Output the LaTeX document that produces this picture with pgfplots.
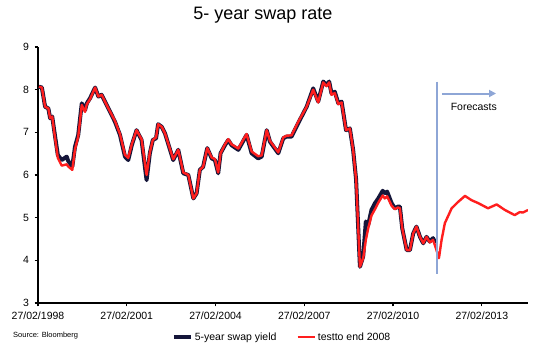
\documentclass[border=0pt]{standalone}
\usepackage{fontspec}
\setmainfont{Liberation Sans}
\usepackage{pgfplots}
\pgfplotsset{compat=1.18}
\usetikzlibrary{arrows.meta}
\definecolor{navy}{HTML}{15163A}
\definecolor{rline}{HTML}{FF1E1E}
\definecolor{fcast}{HTML}{8EA6D6}

\begin{document}
\begin{tikzpicture}
\path[use as bounding box] (-38pt,-47pt) rectangle (512pt,303pt);
\begin{axis}[
  at={(0pt,0pt)}, anchor=south west,
  scale only axis, width=490pt, height=256pt,
  xmin=1998.16, xmax=2014.72, ymin=3, ymax=9,
  axis x line*=bottom, axis y line*=left,
  axis line style={line width=1.8pt, -},
  xtick={1998.16,2001.16,2004.16,2007.16,2010.16,2013.16},
  xticklabels={27/02/1998,27/02/2001,27/02/2004,27/02/2007,27/02/2010,27/02/2013},
  ytick={3,4,5,6,7,8,9},
  tick align=outside, major tick length=3.5pt,
  tick style={line width=1.2pt, black},
  ticklabel style={font=\fontsize{10.5}{12}\selectfont},
  /pgf/number format/assume math mode=true,
  xticklabel style={yshift=-2pt},
  yticklabel style={xshift=-2pt},
  legend style={at={(0.498,-0.133)}, anchor=center, draw=none, fill=none,
    legend columns=2, font=\fontsize{10.5}{12}\selectfont,
    /tikz/every even column/.append style={column sep=18pt},
    inner sep=0pt},
  legend image code/.code={\draw[#1] (0pt,0pt) -- (17pt,0pt);},
]
\addplot[navy, line width=4pt, line join=round] coordinates {
(1998.19,8.07) (1998.29,8.05) (1998.40,7.60) (1998.51,7.56) (1998.57,7.33)
(1998.64,7.37) (1998.73,6.94) (1998.83,6.47) (1998.96,6.35) (1999.13,6.43)
(1999.18,6.33) (1999.32,6.20) (1999.41,6.66) (1999.52,6.94) (1999.64,7.68)
(1999.75,7.52) (1999.81,7.68) (1999.92,7.80) (2000.09,8.05) (2000.20,7.84)
(2000.31,7.88) (2000.54,7.56) (2000.76,7.25) (2000.93,6.94) (2001.10,6.43)
(2001.21,6.35) (2001.33,6.70) (2001.49,7.05) (2001.66,6.82) (2001.83,5.88)
(2001.94,6.51) (2002.04,6.82) (2002.15,6.86) (2002.22,7.19) (2002.34,7.13)
(2002.45,6.98) (2002.73,6.35) (2002.90,6.59) (2003.07,6.04) (2003.24,6.00)
(2003.41,5.45) (2003.52,5.57) (2003.63,6.12) (2003.74,6.19) (2003.88,6.63)
(2004.03,6.39) (2004.14,6.35) (2004.25,6.04) (2004.33,6.51) (2004.48,6.70)
(2004.59,6.82) (2004.70,6.70) (2004.93,6.59) (2005.21,6.94) (2005.38,6.51)
(2005.60,6.39) (2005.72,6.43) (2005.89,7.05) (2006.00,6.78) (2006.28,6.51)
(2006.45,6.86) (2006.56,6.90) (2006.73,6.90) (2006.95,7.21) (2007.24,7.60)
(2007.46,8.03) (2007.63,7.72) (2007.80,8.19) (2007.91,8.11) (2008.00,8.19)
(2008.08,7.91) (2008.19,7.95) (2008.31,7.68) (2008.42,7.72) (2008.57,7.05)
(2008.70,7.09) (2008.81,6.59) (2008.91,5.90) (2009.04,3.85) (2009.15,4.09)
(2009.24,4.91) (2009.32,4.83) (2009.43,5.18) (2009.55,5.34) (2009.66,5.45)
(2009.81,5.63) (2009.88,5.57) (2009.96,5.61) (2010.11,5.34) (2010.22,5.22)
(2010.33,5.26) (2010.39,5.26) (2010.47,4.75) (2010.62,4.24) (2010.73,4.24)
(2010.84,4.63) (2010.95,4.79) (2011.07,4.55) (2011.18,4.40) (2011.29,4.55)
(2011.40,4.44) (2011.51,4.52) (2011.60,4.40)
};
\addlegendentry{5-year swap yield}
\addplot[rline, line width=2.4pt, line join=round] coordinates {
(1998.19,8.07) (1998.29,8.05) (1998.40,7.60) (1998.51,7.56) (1998.57,7.33)
(1998.64,7.37) (1998.73,6.90) (1998.83,6.40) (1998.96,6.22) (1999.13,6.25)
(1999.18,6.20) (1999.32,6.12) (1999.41,6.60) (1999.52,6.90) (1999.64,7.64)
(1999.75,7.48) (1999.81,7.66) (1999.92,7.78) (2000.09,8.05) (2000.20,7.84)
(2000.31,7.88) (2000.54,7.56) (2000.76,7.27) (2000.93,6.96) (2001.10,6.47)
(2001.21,6.40) (2001.33,6.72) (2001.49,7.05) (2001.66,6.84) (2001.83,6.00)
(2001.94,6.53) (2002.04,6.82) (2002.15,6.88) (2002.22,7.19) (2002.34,7.13)
(2002.45,6.98) (2002.73,6.37) (2002.90,6.59) (2003.07,6.06) (2003.24,6.00)
(2003.41,5.45) (2003.52,5.57) (2003.63,6.12) (2003.74,6.19) (2003.88,6.63)
(2004.03,6.41) (2004.14,6.37) (2004.25,6.06) (2004.33,6.51) (2004.48,6.72)
(2004.59,6.84) (2004.70,6.72) (2004.93,6.62) (2005.21,6.96) (2005.38,6.55)
(2005.60,6.44) (2005.72,6.46) (2005.89,7.05) (2006.00,6.80) (2006.28,6.53)
(2006.45,6.88) (2006.56,6.92) (2006.73,6.93) (2006.95,7.24) (2007.24,7.60)
(2007.46,8.00) (2007.63,7.70) (2007.80,8.17) (2007.91,8.08) (2008.00,8.17)
(2008.08,7.88) (2008.19,7.92) (2008.31,7.66) (2008.42,7.70) (2008.57,7.05)
(2008.70,7.09) (2008.81,6.59) (2008.91,5.90) (2009.04,3.85) (2009.15,4.05)
(2009.24,4.48) (2009.32,4.75) (2009.43,5.05) (2009.55,5.20) (2009.66,5.35)
(2009.81,5.52) (2009.88,5.45) (2009.96,5.50) (2010.11,5.28) (2010.22,5.20)
(2010.33,5.24) (2010.39,5.22) (2010.47,4.75) (2010.62,4.24) (2010.73,4.24)
(2010.84,4.63) (2010.95,4.79) (2011.07,4.55) (2011.18,4.40) (2011.29,4.55)
(2011.40,4.42) (2011.51,4.48) (2011.60,4.30) (2011.71,4.05) (2011.80,4.48)
(2011.91,4.87) (2012.14,5.22) (2012.36,5.37) (2012.59,5.51) (2012.81,5.41)
(2013.04,5.34) (2013.37,5.22) (2013.66,5.31) (2013.94,5.18) (2014.27,5.06)
(2014.44,5.13) (2014.55,5.12) (2014.72,5.18)
};
\addlegendentry{testto end 2008}
\draw[fcast, line width=2pt] (axis cs:2011.66,8.19) -- (axis cs:2011.66,3.67);
\draw[fcast, line width=2pt, -{Triangle[length=7pt,width=7pt]}]
  (axis cs:2011.81,7.91) -- (axis cs:2013.64,7.91);
\node[font=\fontsize{10.5}{12}\selectfont] at (axis cs:2012.89,7.59) {Forecasts};
\end{axis}
\node[font=\fontsize{18}{20}\selectfont] at (225pt,288pt) {5- year swap rate};
\node[anchor=west, font=\fontsize{7.5}{9}\selectfont, inner sep=0pt] at (-25pt,-33pt) {Source: Bloomberg};
\end{tikzpicture}
\end{document}
